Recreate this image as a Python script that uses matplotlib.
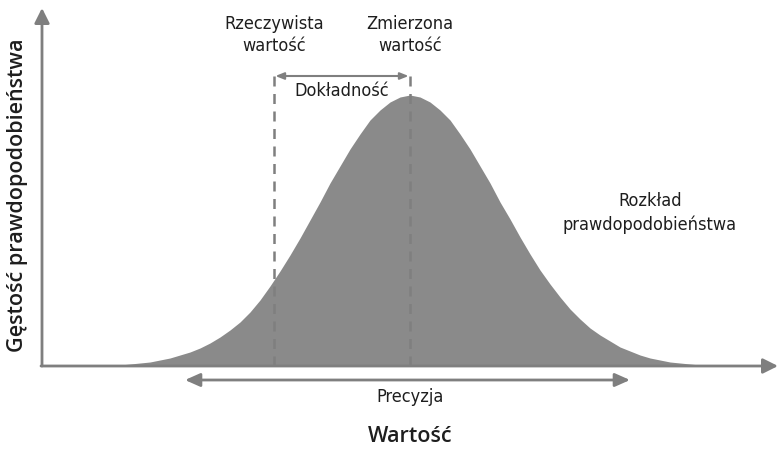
import matplotlib.pyplot as plt
from matplotlib import font_manager

# value axis positions (origin at the axes corner) and density heights
value_x = list(range(68, 669, 10))
density = [1, 1, 2, 3, 4, 6, 8, 11, 14, 18, 23, 29, 36, 44, 54, 66, 80, 95, 111, 128,
           146, 164, 183, 200, 217, 232, 246, 256, 264, 269,
           271,
           269, 264, 256, 246, 232, 217, 200, 183, 164, 147, 129, 112, 96, 82, 69, 57, 47,
           38, 31, 25, 19, 15, 11, 8, 6, 4, 3, 2, 1, 1]

true_value = 232
measured_value = 368
precision_span = (143, 588)

# pick a condensed face when one is installed
narrow_family, narrow_stretch, narrow_size = 'Roboto', 'normal', 14
for f in font_manager.fontManager.ttflist:
    if f.name == 'DejaVu Sans' and f.stretch == 'condensed':
        narrow_family, narrow_stretch, narrow_size = 'DejaVu Sans', 'condensed', 13
        break

narrow = dict(family=[narrow_family, 'DejaVu Sans'], stretch=narrow_stretch, fontsize=narrow_size)
bold = dict(family=['Open Sans', 'DejaVu Sans'], weight='semibold', fontsize=15.5)
gray = '#8a8a8a'
line_gray = '#7f7f7f'
text_color = '#1e1e1e'

fig = plt.figure(figsize=(7.81, 4.49), dpi=100)
ax = fig.add_axes([0, 0, 1, 1])
ax.set_xlim(-42, 739)
ax.set_ylim(-83, 366)
ax.axis('off')

ax.fill_between(value_x, density, 0, color=gray, lw=0, zorder=1)

# axes with arrow heads
ax.annotate('', xy=(0, 358), xytext=(0, 0),
            arrowprops=dict(arrowstyle='-|>,head_length=0.9,head_width=0.45', color=line_gray, lw=2,
                            shrinkA=0, shrinkB=0))
ax.annotate('', xy=(736, 0), xytext=(-1, 0),
            arrowprops=dict(arrowstyle='-|>,head_length=0.9,head_width=0.45', color=line_gray, lw=2,
                            shrinkA=0, shrinkB=0))

# dashed markers
for xv in (true_value, measured_value):
    ax.plot([xv, xv], [0, 296], ls=(0, (4, 3)), color=line_gray, lw=1.8, zorder=2)

# accuracy arrow
ax.annotate('', xy=(measured_value, 290), xytext=(true_value, 290),
            arrowprops=dict(arrowstyle='<|-|>,head_length=0.5,head_width=0.2', color=line_gray, lw=1.5,
                            shrinkA=1, shrinkB=1))
# precision arrow
ax.annotate('', xy=(precision_span[1], -14), xytext=(precision_span[0], -14),
            arrowprops=dict(arrowstyle='<|-|>,head_length=0.9,head_width=0.4', color=line_gray, lw=2,
                            shrinkA=0, shrinkB=0))

ax.text(true_value, 331, 'Rzeczywista\nwartość', ha='center', va='center',
        color=text_color, linespacing=1.3, **narrow)
ax.text(measured_value, 331, 'Zmierzona\nwartość', ha='center', va='center',
        color=text_color, linespacing=1.3, **narrow)
ax.text((true_value + measured_value) / 2, 275, 'Dokładność', ha='center', va='center',
        color=text_color, **narrow)
ax.text(608, 153, 'Rozkład\nprawdopodobieństwa', ha='center', va='center',
        color=text_color, linespacing=1.35, **narrow)
ax.text(368, -31, 'Precyzja', ha='center', va='center', color=text_color, **narrow)
ax.text(368, -71, 'Wartość', ha='center', va='center', color=text_color, **bold)
ax.text(-24, 171, 'Gęstość prawdopodobieństwa', ha='center', va='center', rotation=90,
        color=text_color, **bold)

fig.savefig('out.png', dpi=100)
